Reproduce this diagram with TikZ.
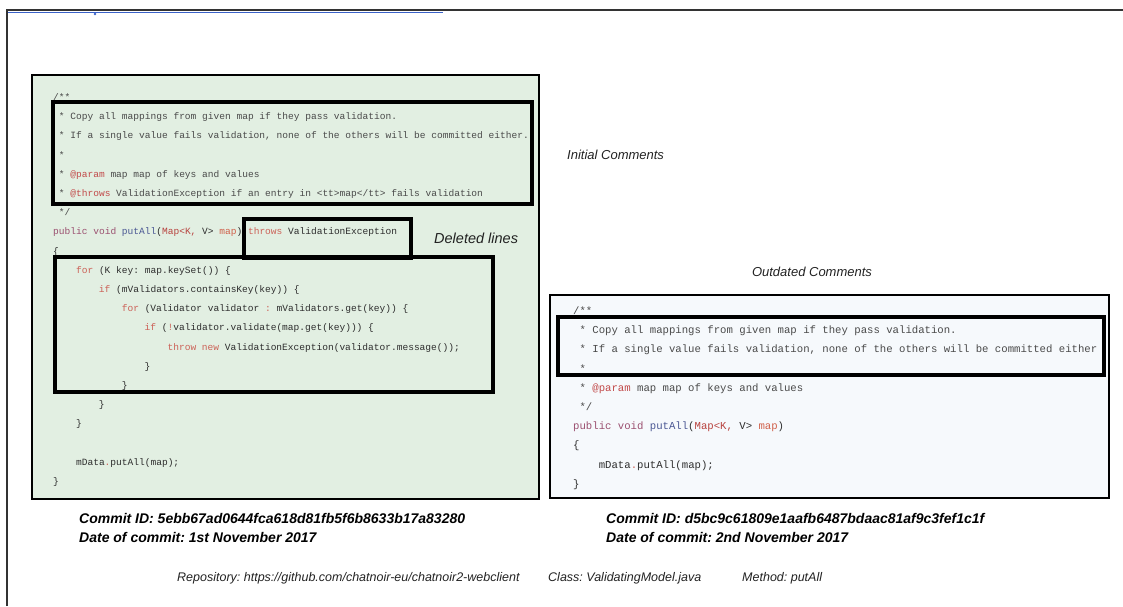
\documentclass[tikz,border=0pt]{standalone}
\usepackage{fontspec}
\setmainfont{Liberation Sans}
\newfontfamily\codefont{Liberation Mono}
\usepackage{xcolor}
\AtBeginDocument{\frenchspacing}

\definecolor{framec}{HTML}{333333}
\definecolor{rulec}{HTML}{3A62C8}
\definecolor{greenfill}{HTML}{E2EFE2}
\definecolor{bluefill}{HTML}{F6F9FC}
\definecolor{codec}{HTML}{2E2E2E}
\definecolor{commc}{HTML}{4A4A4A}
\definecolor{kwc}{HTML}{CC6258}
\definecolor{pubc}{HTML}{9B5070}
\definecolor{fnc}{HTML}{4B5894}
\definecolor{typec}{HTML}{B8433F}
\definecolor{mapc}{HTML}{D0604A}
\definecolor{annc}{HTML}{C24A4A}
\definecolor{labc}{HTML}{222222}

% syntax colouring helpers
\newcommand\kw[1]{\textcolor{kwc}{#1}}
\newcommand\ann[1]{\textcolor{annc}{#1}}
\newcommand\sig{\textcolor{pubc}{public void} \textcolor{fnc}{putAll}(\textcolor{typec}{Map<K,} V> \textcolor{mapc}{map})}

% one code line in the left (old) listing: line number, column, text
\newcommand\Lline[3]{\node[lcode] (L#1) at ({53+5.72*#2},{100.5+19.2*#1}) {#3};}
% one code line in the right (new) listing
\newcommand\Rline[3]{\node[rcode] (R#1) at ({573+6.4*#2},{314.5+19.2*#1}) {#3};}

\begin{document}
\begin{tikzpicture}[x=1pt,y=-1pt,
  lcode/.style={anchor=base west, inner sep=0pt, text=codec,
    font=\codefont\fontsize{9.55}{11}\selectfont},
  rcode/.style={anchor=base west, inner sep=0pt, text=codec,
    font=\codefont\fontsize{10.65}{12}\selectfont},
  listing/.style={draw=black, line width=1.6pt},
  hlbox/.style={draw=black, line width=3.6pt},
  note/.style={inner sep=0pt, text=labc, font=\itshape\fontsize{13}{15}\selectfont},
  commit/.style={anchor=west, inner sep=0pt, text=black,
    font=\bfseries\itshape\fontsize{14}{16}\selectfont},
  meta/.style={anchor=west, inner sep=0pt, text=labc,
    font=\itshape\fontsize{12.5}{15}\selectfont}]
\useasboundingbox (0,0) rectangle (1123,606);

% outer frame and the thin blue rule under its top edge
\draw[rulec, line width=1pt] (8,12.6) -- (443,12.6);
\fill[rulec] (95,14) circle (1.4);
\draw[framec, line width=2.2pt] (7,606) -- (7,10) -- (1123,10);

% the two listings
\draw[listing, fill=greenfill] (32,75) rectangle (539,499);
\draw[listing, fill=bluefill] (550,295) rectangle (1109,498);

% old version of putAll
\Lline{0}{0}{\textcolor{commc}{/**}}
\Lline{1}{1}{\textcolor{commc}{* Copy all mappings from given map if they pass validation.}}
\Lline{2}{1}{\textcolor{commc}{* If a single value fails validation, none of the others will be committed either.}}
\Lline{3}{1}{\textcolor{commc}{*}}
\Lline{4}{1}{\textcolor{commc}{* \ann{@param} map map of keys and values}}
\Lline{5}{1}{\textcolor{commc}{* \ann{@throws} ValidationException if an entry in <tt>map</tt> fails validation}}
\Lline{6}{1}{\textcolor{commc}{*/}}
\Lline{7}{0}{\sig{} \kw{throws} ValidationException}
\Lline{8}{0}{\{}
\Lline{9}{4}{\kw{for} (K key: map.keySet()) \{}
\Lline{10}{8}{\kw{if} (mValidators.containsKey(key)) \{}
\Lline{11}{12}{\kw{for} (Validator validator \kw{:} mValidators.get(key)) \{}
\Lline{12}{16}{\kw{if} (\kw{!}validator.validate(map.get(key))) \{}
\Lline{13}{20}{\kw{throw} \kw{new} ValidationException(validator.message());}
\Lline{14}{16}{\}}
\Lline{15}{12}{\}}
\Lline{16}{8}{\}}
\Lline{17}{4}{\}}
\Lline{19}{4}{mData\kw{.}putAll(map);}
\Lline{20}{0}{\}}

% new version of putAll
\Rline{0}{0}{\textcolor{commc}{/**}}
\Rline{1}{1}{\textcolor{commc}{* Copy all mappings from given map if they pass validation.}}
\Rline{2}{1}{\textcolor{commc}{* If a single value fails validation, none of the others will be committed either}}
\Rline{3}{1}{\textcolor{commc}{*}}
\Rline{4}{1}{\textcolor{commc}{* \ann{@param} map map of keys and values}}
\Rline{5}{1}{\textcolor{commc}{*/}}
\Rline{6}{0}{\sig}
\Rline{7}{0}{\{}
\Rline{8}{4}{mData\kw{.}putAll(map);}
\Rline{9}{0}{\}}

% highlighted regions
\draw[hlbox] (53,102) rectangle (532,204);
\draw[hlbox] (244,219) rectangle (411,258);
\draw[hlbox] (55,257) rectangle (493,392);
\draw[hlbox] (558,317) rectangle (1104,375);

% annotations
\node[note, anchor=west] (initial) at (567,155) {Initial Comments};
\node[note, anchor=west, font=\itshape\fontsize{14.5}{17}\selectfont] (deleted) at (434,238) {Deleted lines};
\node[note] (outdated) at (812,272) {Outdated Comments};

% commit information
\node[commit] (idold) at (79,518) {Commit ID: 5ebb67ad0644fca618d81fb5f6b8633b17a83280};
\node[commit] (dateold) at (79,537) {Date of commit: 1st November 2017};
\node[commit] (idnew) at (606,518) {Commit ID: d5bc9c61809e1aafb6487bdaac81af9c3fef1c1f};
\node[commit] (datenew) at (606,537) {Date of commit: 2nd November 2017};

\node[meta] (repo) at (177,578) {Repository: https://github.com/chatnoir-eu/chatnoir2-webclient};
\node[meta] (class) at (548,578) {Class: ValidatingModel.java};
\node[meta] (method) at (742,578) {Method: putAll};
\end{tikzpicture}
\end{document}
